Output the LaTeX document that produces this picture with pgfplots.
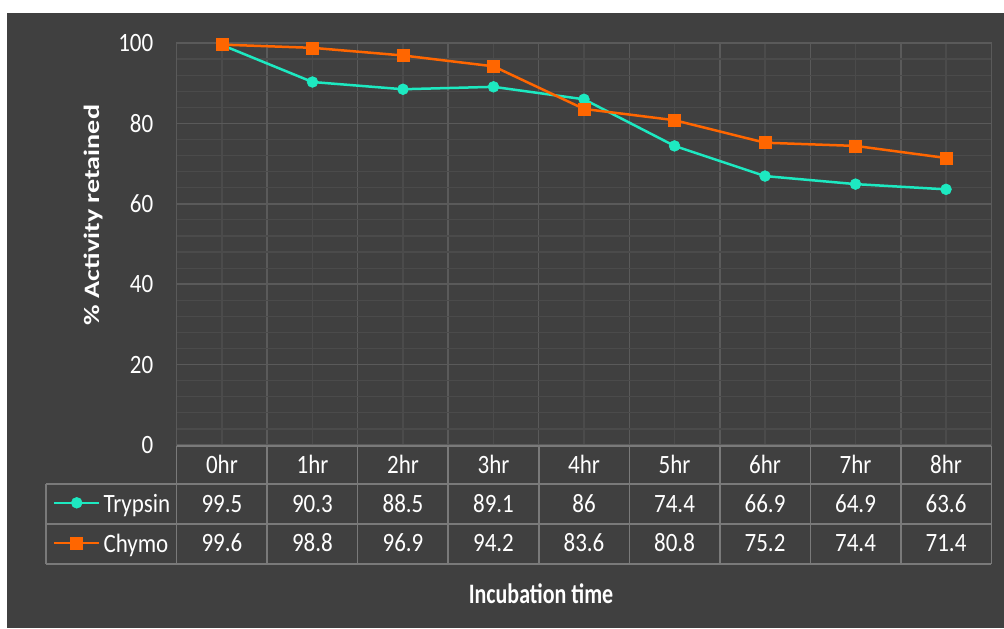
\documentclass[border=0pt]{standalone}
\usepackage{pgfplots}
\usepackage{pgfplotstable}
\usepackage{graphicx}
\usepackage{fontspec}
\pgfplotsset{compat=1.18}
\setmainfont{Carlito}

\definecolor{bg}{HTML}{404040}
\definecolor{gridmaj}{HTML}{5A5A5A}
\definecolor{gridmin}{HTML}{4B4B4B}
\definecolor{tblline}{HTML}{7A7A7A}
\definecolor{tryp}{HTML}{1DE9C1}
\definecolor{chymo}{HTML}{FF6600}

% glyphs in this chart are set a little taller than wide
\newcommand\tall[1]{\scalebox{1}[1.15]{#1}}
\newcommand\tallb[1]{\scalebox{1}[1.28]{#1}}

\pgfplotstableread{
x label Trypsin Chymo
0 0hr 99.5 99.6
1 1hr 90.3 98.8
2 2hr 88.5 96.9
3 3hr 89.1 94.2
4 4hr 86   83.6
5 5hr 74.4 80.8
6 6hr 66.9 75.2
7 7hr 64.9 74.4
8 8hr 63.6 71.4
}\activity

\begin{document}
\begin{tikzpicture}[font=\fontsize{11.5}{13.5}\selectfont]
\path[use as bounding box] (0,0) rectangle (502pt,-314pt);
% page frame, measured downward from the top-left corner
\begin{scope}[x=0.5pt, y=-0.5pt]
\fill[white] (0,0) rectangle (1004,628);
\fill[bg] (7,13) rectangle (1004,628);
\end{scope}

\begin{axis}[
  at={(88.35pt,-222.5pt)}, anchor=south west,
  scale only axis, width=407.3pt, height=201pt,
  xmin=-0.5, xmax=8.5, ymin=0, ymax=100,
  xtick={-0.5,0.5,...,8.5}, xticklabels=\empty,
  minor xtick={0,1,...,8},
  ytick={0,20,...,100}, minor y tick num=4,
  grid=both,
  major grid style={gridmaj, line width=0.75pt},
  minor grid style={gridmin, line width=0.6pt},
  axis line style={gridmaj, line width=0.75pt},
  tick style={draw=none},
  major tick length=0pt, minor tick length=0pt,
  yticklabel style={text=white, anchor=east, inner sep=0pt, xshift=-11.5pt},
  yticklabel={\tall{\pgfmathprintnumber[assume math mode=true]{\tick}}},
  ylabel={\scalebox{1.28}[1]{\bfseries\fontsize{11}{13}\selectfont\% Activity retained}},
  ylabel style={at={(axis description cs:-0.1027,0.5721)}, anchor=center, text=white},
  xlabel={\tallb{\bfseries\fontsize{11}{13}\selectfont Incubation time}},
  xlabel style={at={(axis description cs:0.4472,-0.393)}, anchor=base, text=white, inner sep=0pt},
  clip=false,
  legend image code/.code={
    \draw[mark repeat=2, mark phase=2] plot coordinates {(0pt,0.6pt) (11.25pt,0.6pt) (22.5pt,0.6pt)};
  },
  legend style={
    at={(axis description cs:-0.15186,-0.0970)}, anchor=north west,
    draw=none, fill=none, inner sep=0pt, outer sep=0pt,
    row sep=0pt, column sep=1.5pt,
    nodes={inner sep=0pt, outer sep=0pt, text=white, text height=14.25pt, text depth=5.75pt},
  },
  legend cell align=left,
]
\addplot[tryp, line width=1.25pt, mark=*, mark size=2.7pt,
  mark options={solid, fill=tryp, draw=tryp, line width=0.3pt}]
  table[x=x, y=Trypsin]{\activity};
\addlegendentry{\tall{Trypsin}}
\addplot[chymo, line width=1.25pt, mark=square*, mark size=3pt,
  mark options={solid, fill=chymo, draw=chymo, line width=0.3pt}]
  table[x=x, y=Chymo]{\activity};
\addlegendentry{\tall{Chymo}}
\end{axis}

% data table under the plot
\begin{scope}[x=0.5pt, y=-0.5pt]
\begin{scope}[tblline, line width=0.75pt]
  \draw (176.7,446) -- (991.3,446);
  \draw (46,484) -- (991.3,484);
  \draw (46,524) -- (991.3,524);
  \draw (46,564) -- (991.3,564);
  \draw (46,484) -- (46,564);
  \foreach \k in {0,...,9} {
    \draw ({176.7+90.51*\k},446) -- ({176.7+90.51*\k},564);
  }
\end{scope}
\foreach \i in {0,...,8} {
  \pgfplotstablegetelem{\i}{label}\of\activity
  \node[anchor=base, text=white, inner sep=0pt] at ({221.96+90.51*\i},473) {\tall{\pgfplotsretval}};
  \pgfplotstablegetelem{\i}{Trypsin}\of\activity
  \node[anchor=base, text=white, inner sep=0pt] at ({221.96+90.51*\i},512.5) {\tall{\pgfplotsretval}};
  \pgfplotstablegetelem{\i}{Chymo}\of\activity
  \node[anchor=base, text=white, inner sep=0pt] at ({221.96+90.51*\i},551.5) {\tall{\pgfplotsretval}};
}
\end{scope}
\end{tikzpicture}
\end{document}
